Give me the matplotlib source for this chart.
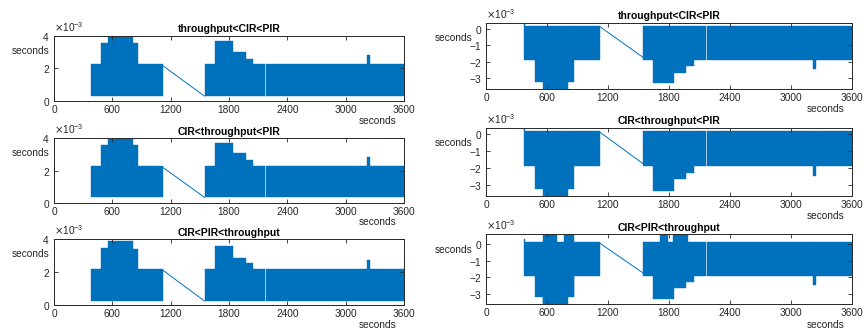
import matplotlib
matplotlib.use("Agg")
import matplotlib.pyplot as plt
import numpy as np
from matplotlib.ticker import ScalarFormatter

plt.rcParams['font.family'] = ['Liberation Sans', 'DejaVu Sans']
plt.rcParams['axes.unicode_minus'] = False

blue = '#0072BD'
dark = '#262626'

titles = ['throughput<CIR<PIR', 'CIR<throughput<PIR', 'CIR<PIR<throughput']

# left column: step envelopes of the dense signal (units of 1e-3 s)
# one value per interval between consecutive breakpoints, nan = no data
t_left = [377, 484, 560, 810, 866, 1123, 1550, 1656, 1845, 1972, 2051, 2170, 2180, 3225, 3255, 3600]
hi_l1 = [2.25, 3.55, 4.0, 3.55, 2.25, np.nan, 2.25, 3.7, 3.0, 2.6, 2.25, np.nan, 2.25, 2.8, 2.25]
lo_l1 = [0.3, 0.3, 0.3, 0.3, 0.3, np.nan, 0.3, 0.3, 0.3, 0.3, 0.3, np.nan, 0.3, 0.3, 0.3]
hi_l2 = [2.28, 3.6, 4.0, 3.6, 2.28, np.nan, 2.28, 3.72, 3.05, 2.62, 2.28, np.nan, 2.28, 2.85, 2.28]
lo_l2 = [0.35, 0.35, 0.35, 0.35, 0.35, np.nan, 0.35, 0.35, 0.35, 0.35, 0.35, np.nan, 0.35, 0.35, 0.35]
hi_l3 = [2.18, 3.45, 3.86, 3.42, 2.18, np.nan, 2.18, 3.58, 2.88, 2.52, 2.18, np.nan, 2.18, 2.7, 2.18]
lo_l3 = [0.24, 0.24, 0.24, 0.24, 0.24, np.nan, 0.24, 0.24, 0.24, 0.24, 0.24, np.nan, 0.24, 0.24, 0.24]

# right column
t_right = [377, 385, 482, 558, 808, 866, 1123, 1545, 1646, 1849, 1964, 2046, 2166, 2176, 3220, 3250, 3600]
hi_r1 = [0.34, 0.18, 0.18, 0.18, 0.18, 0.18, np.nan, 0.18, 0.18, 0.18, 0.18, 0.18, np.nan, 0.18, 0.18, 0.18]
lo_r1 = [-1.88, -1.88, -3.2, -3.7, -3.2, -1.88, np.nan, -1.88, -3.3, -2.65, -2.28, -1.88, np.nan, -1.88, -2.45, -1.88]
hi_r2 = [0.36, 0.18, 0.18, 0.18, 0.18, 0.18, np.nan, 0.18, 0.18, 0.18, 0.18, 0.18, np.nan, 0.18, 0.18, 0.18]
lo_r2 = [-1.9, -1.9, -3.22, -3.7, -3.2, -1.9, np.nan, -1.9, -3.32, -2.65, -2.28, -1.9, np.nan, -1.9, -2.45, -1.9]

t_r3 = [377, 385, 482, 558, 564, 695, 767, 808, 862, 866, 1123, 1545, 1646, 1712, 1790,
        1836, 1849, 1964, 1984, 2046, 2166, 2176, 3220, 3250, 3600]
hi_r3 = [0.3, 0.15, 0.15, 0.15, 0.7, 0.15, 0.7, 0.7, 0.15, 0.15, np.nan, 0.15, 0.15, 0.7,
         0.15, 0.7, 0.7, 0.7, 0.15, 0.15, np.nan, 0.15, 0.15, 0.15]
lo_r3 = [-1.9, -1.9, -3.2, -3.7, -3.7, -3.7, -3.7, -3.2, -3.2, -1.9, np.nan, -1.9, -3.3, -3.3,
         -3.3, -3.3, -2.65, -2.3, -2.3, -1.9, np.nan, -1.9, -2.45, -1.9]

# straight segment across the missing stretch
diag_t = [1123, 1548]
diag_l1 = [2.15, 0.3]
diag_l2 = [2.18, 0.35]
diag_l3 = [2.1, 0.24]
diag_r1 = [0.1, -1.75]
diag_r2 = [0.1, -1.75]
diag_r3 = [0.05, -1.76]

xticks = [0, 600, 1200, 1800, 2400, 3000, 3600]
yticks_left = [0, 2, 4]
yticks_right = [-3, -2, -1, 0]
ylim_left = [(0, 4), (0, 4), (0, 4)]
ylim_right = [(-3.66, 0.35), (-3.63, 0.37), (-3.63, 0.62)]

pos_left = [[0.0625, 0.6967, 0.405, 0.196],
            [0.0625, 0.3904, 0.405, 0.195],
            [0.0625, 0.0841, 0.405, 0.198]]
pos_right = [[0.5625, 0.7318, 0.4236, 0.200],
             [0.5625, 0.4114, 0.4236, 0.205],
             [0.5625, 0.0871, 0.4236, 0.210]]


def panel(fig, pos, t, hi, lo, dt, dy, ylim, yticks, title, lab_x):
    ax = fig.add_axes(pos)
    t = np.array(t, dtype=float)
    hi = np.array(hi) * 1e-3
    lo = np.array(lo) * 1e-3
    ax.bar(t[:-1], hi - lo, bottom=lo, width=np.diff(t), align='edge',
           color=blue, edgecolor=blue, linewidth=0.3)
    ax.plot(dt, np.array(dy) * 1e-3, color=blue, lw=0.7)
    ax.set_xlim(0, 3600)
    ax.set_ylim(ylim[0] * 1e-3, ylim[1] * 1e-3)
    ax.set_xticks(xticks)
    ax.set_yticks(np.array(yticks) * 1e-3)
    fmt = ScalarFormatter(useMathText=True)
    fmt.set_powerlimits((-3, -3))
    ax.yaxis.set_major_formatter(fmt)
    ax.yaxis.get_offset_text().set_fontsize(7.3)
    ax.yaxis.get_offset_text().set_color('#555555')
    ax.tick_params(direction='in', length=3, width=0.6, labelsize=7.3,
                   colors=dark, top=True, right=True, pad=3)
    for s in ax.spines.values():
        s.set_linewidth(0.7)
        s.set_color(dark)
    ax.set_title(title, fontsize=7.5, fontweight='bold', pad=2.5, color='black')
    ax.set_ylabel('seconds', rotation=0, ha='right', va='center', fontsize=7.3, color=dark)
    ax.yaxis.set_label_coords(lab_x, 0.77)
    ax.set_xlabel('seconds', ha='right', va='center', fontsize=7.3, color=dark)
    ax.xaxis.set_label_coords(0.98, -0.30)
    return ax


fig = plt.figure(figsize=(8.64, 3.33), dpi=100)

left = [(hi_l1, lo_l1, diag_l1), (hi_l2, lo_l2, diag_l2), (hi_l3, lo_l3, diag_l3)]
for i, (hi, lo, dg) in enumerate(left):
    panel(fig, pos_left[i], t_left, hi, lo, diag_t, dg, ylim_left[i], yticks_left, titles[i], -0.012)

right = [(t_right, hi_r1, lo_r1, diag_r1), (t_right, hi_r2, lo_r2, diag_r2), (t_r3, hi_r3, lo_r3, diag_r3)]
for i, (t, hi, lo, dg) in enumerate(right):
    panel(fig, pos_right[i], t, hi, lo, diag_t, dg, ylim_right[i], yticks_right, titles[i], -0.036)

fig.savefig('out.png', dpi=100)
